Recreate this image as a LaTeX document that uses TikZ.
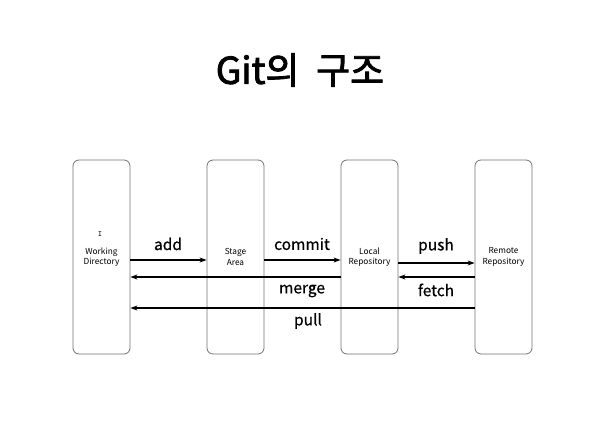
\documentclass[tikz,border=0pt]{standalone}
\usepackage{fontspec}
\setmainfont{Noto Sans CJK KR}
\newfontfamily\labelfont{Noto Sans CJK KR}[FakeBold=0.6]
\newfontfamily\titlefont{Noto Sans CJK KR}[FakeBold=2.2]
\usetikzlibrary{arrows.meta}
\begin{document}
\begin{tikzpicture}[x=1pt,y=-1pt,
  repo/.style={draw=black!55, line width=0.8pt, rounded corners=6pt, fill=white,
    minimum width=57pt, minimum height=194pt, inner sep=0pt, align=center,
    font=\fontsize{8.3}{10.5}\selectfont},
  flow/.style={line width=1.3pt, -{Stealth[length=7pt,width=5pt]}},
  lbl/.style={font=\labelfont\fontsize{15.5}{18}\selectfont, inner sep=0pt}]
\useasboundingbox (0,0) rectangle (597,426);
\node[font=\titlefont\fontsize{37}{42}\selectfont] (title) at (300,70) {Git의\ \ 구조};
\node[repo] (wd) at (101.5,257) {Working\\Directory};
\node[repo] (sa) at (235.5,257) {Stage\\Area};
\node[repo] (lr) at (369.5,257) {Local\\Repository};
\node[repo] (rr) at (503.5,257) {Remote\\Repository};
\node[font=\fontsize{8}{9}\selectfont\ttfamily, inner sep=0pt] (cur) at (100,234) {I};
\draw[flow] ([yshift=-3pt]wd.east) -- ([yshift=-3pt]sa.west);
\draw[flow] ([yshift=-3pt]sa.east) -- ([yshift=-3pt]lr.west);
\draw[flow] ([yshift=-6pt]lr.east) -- ([yshift=-6pt]rr.west);
\draw[flow] ([yshift=-20pt]lr.west) -- ([yshift=-20pt]wd.east);
\draw[flow] ([yshift=-20pt]rr.west) -- ([yshift=-20pt]lr.east);
\draw[flow] ([yshift=-51pt]rr.west) -- ([yshift=-51pt]wd.east);
\node[lbl] (ladd) at (168,244) {add};
\node[lbl] (lcommit) at (302,244) {commit};
\node[lbl] (lpush) at (436,246) {push};
\node[lbl] (lmerge) at (302,291) {merge};
\node[lbl] (lfetch) at (436,290) {fetch};
\node[lbl] (lpull) at (308,321) {pull};
\end{tikzpicture}
\end{document}
